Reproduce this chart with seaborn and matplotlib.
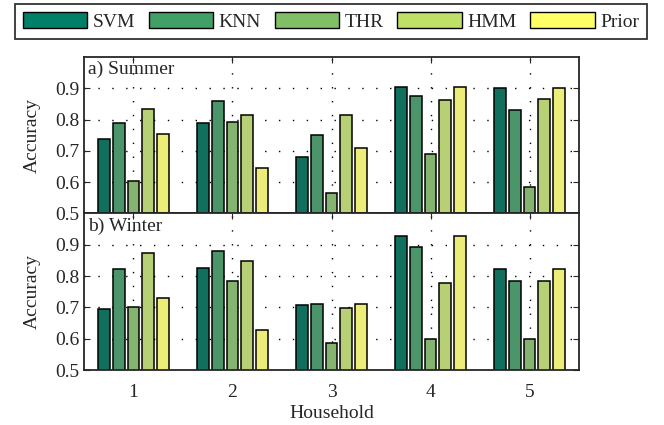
import matplotlib.pyplot as plt
import matplotlib.patches as mpatches
import seaborn as sns
import pandas as pd

households = ["1", "2", "3", "4", "5"]
methods = ["SVM", "KNN", "THR", "HMM", "Prior"]
colors = ["#008066", "#40a066", "#80bf66", "#bfdf66", "#ffff66"]

# accuracy per method, one value per household
summer = {
    "SVM":   [0.738, 0.788, 0.681, 0.904, 0.902],
    "KNN":   [0.788, 0.859, 0.751, 0.875, 0.829],
    "THR":   [0.604, 0.791, 0.566, 0.690, 0.585],
    "HMM":   [0.833, 0.816, 0.813, 0.862, 0.865],
    "Prior": [0.754, 0.645, 0.710, 0.904, 0.902],
}
winter = {
    "SVM":   [0.695, 0.825, 0.708, 0.928, 0.824],
    "KNN":   [0.823, 0.881, 0.712, 0.893, 0.784],
    "THR":   [0.702, 0.785, 0.585, 0.600, 0.600],
    "HMM":   [0.874, 0.849, 0.699, 0.778, 0.784],
    "Prior": [0.729, 0.628, 0.711, 0.928, 0.824],
}


def to_long(d):
    rows = []
    for m in methods:
        for h, v in zip(households, d[m]):
            rows.append({"Household": h, "Method": m, "Accuracy": v})
    return pd.DataFrame(rows)


sns.set_style("ticks")
plt.rcParams["font.family"] = ["Liberation Serif", "DejaVu Serif"]
plt.rcParams["font.size"] = 14

fig = plt.figure(figsize=(6.64, 4.25), dpi=100)
ax1 = fig.add_axes([0.1265, 0.4977, 0.7455, 0.3683])
ax2 = fig.add_axes([0.1265, 0.1294, 0.7455, 0.3683], sharex=ax1)

panels = [(ax1, summer, "a) Summer"), (ax2, winter, "b) Winter")]
for ax, d, label in panels:
    sns.barplot(
        data=to_long(d), x="Household", y="Accuracy", hue="Method",
        hue_order=methods, palette=colors, width=0.75, gap=0.2,
        edgecolor="black", linewidth=1.1, legend=False, ax=ax,
    )
    ax.set_ylim(0.5, 1.0)
    ax.set_yticks([0.5, 0.6, 0.7, 0.8, 0.9])
    ax.set_yticklabels(["0.5", "0.6", "0.7", "0.8", "0.9"])
    ax.set_xlim(-0.5, 4.5)
    ax.grid(True, linestyle=(0, (1, 9)), color="black", linewidth=1.0)
    ax.set_axisbelow(True)
    ax.tick_params(direction="in", length=4, top=True, right=True, labelsize=14)
    for s in ax.spines.values():
        s.set_linewidth(1.3)
        s.set_visible(True)
    ax.set_ylabel("Accuracy", fontsize=14)
    ax.yaxis.set_label_coords(-0.087, 0.5)
    ax.set_xlabel("")
    ax.text(0.008, 0.975, label, transform=ax.transAxes, ha="left", va="top",
            fontsize=14)

ax1.tick_params(labelbottom=False)
ax2.set_xticks(range(5))
ax2.set_xticklabels(households)
ax2.tick_params(axis="x", pad=10)
ax2.set_xlabel("Household", fontsize=14, labelpad=3)

handles = [mpatches.Patch(facecolor=c, edgecolor="black", linewidth=1, label=m)
           for m, c in zip(methods, colors)]
leg = fig.legend(handles=handles, ncol=5, loc="upper center",
                 bbox_to_anchor=(331 / 664, 1 - 4 / 425),
                 frameon=True, fancybox=False, edgecolor="black",
                 handlelength=3.3, handleheight=0.93, handletextpad=0.3,
                 columnspacing=0.7, borderaxespad=0, borderpad=0.4,
                 fontsize=14)
leg.get_frame().set_linewidth(1.3)

plt.savefig("out.png", dpi=100)
